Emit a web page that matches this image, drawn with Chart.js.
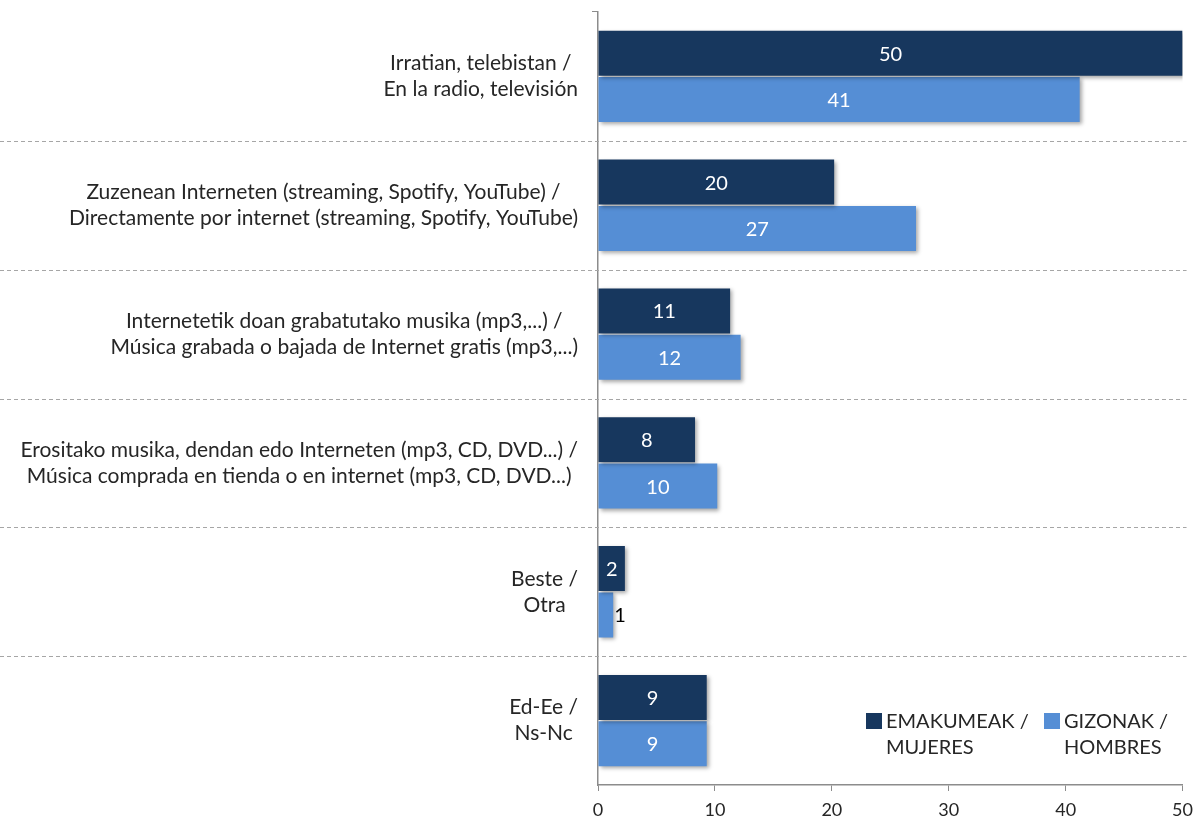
<!DOCTYPE html>
<html>
<head>
<meta charset="utf-8">
<script src="https://cdn.jsdelivr.net/npm/chart.js@4/dist/chart.umd.min.js"></script>
<style>
  html, body { margin: 0; padding: 0; background: #fff; }
  #wrap { position: relative; width: 1201px; height: 823px; }
  #legend { font-family: Lato, sans-serif; font-size: 20px; color: #262626; line-height: 26px; }
  .item { position: absolute; top: 707px; display: flex; align-items: flex-start; }
  .box { width: 16px; height: 16px; margin: 6px 4px 0 0; }
</style>
</head>
<body>
<div id="wrap">
  <canvas id="chart" width="1201" height="823"></canvas>
  <div id="legend"></div>
</div>
<script>
const categories = [
    ['Irratian, telebistan /', 'En la radio, televisión'],
    ['Zuzenean Interneten (streaming, Spotify, YouTube) /', 'Directamente por internet (streaming, Spotify, YouTube)'],
    ['Internetetik doan grabatutako musika (mp3,...) /', 'Música grabada o bajada de Internet gratis (mp3,...)'],
    ['Erositako musika, dendan edo Interneten (mp3, CD, DVD...) /', 'Música comprada en tienda o en internet (mp3, CD, DVD...)'],
    ['Beste /', 'Otra'],
    ['Ed-Ee /', 'Ns-Nc']
];
const women = [50, 20.2, 11.3, 8.3, 2.3, 9.3];
const men = [41.2, 27.2, 12.2, 10.2, 1.3, 9.3];
const seriesNames = [['EMAKUMEAK /', 'MUJERES'], ['GIZONAK /', 'HOMBRES']];
const xTicks = [0, 10, 20, 30, 40, 50];

const colors = {
    women: '#17375E',
    men: '#558ED5',
    axis: '#8C8C8C',
    sep: '#A6A6A6',
    text: '#262626'
};
const fontFamily = 'Lato, sans-serif';

// dashed separators, bar shadow, value labels and centred category labels
const decorations = {
    id: 'decorations',
    beforeDatasetsDraw(chart) {
        const {ctx, chartArea, scales: {y}} = chart;
        ctx.save();
        ctx.strokeStyle = colors.sep;
        ctx.lineWidth = 1;
        ctx.setLineDash([4, 3]);
        for (let i = 1; i < categories.length; i++) {
            const py = Math.round((y.getPixelForTick(i - 1) + y.getPixelForTick(i)) / 2) + 0.5;
            ctx.beginPath();
            ctx.moveTo(0, py);
            ctx.lineTo(chartArea.right + 4, py);
            ctx.stroke();
        }
        ctx.restore();

        // category labels: each block ends near the axis, its lines centred
        ctx.save();
        ctx.font = '21px ' + fontFamily;
        ctx.fillStyle = colors.text;
        ctx.textAlign = 'center';
        ctx.textBaseline = 'middle';
        categories.forEach((lines, i) => {
            const widest = Math.max(...lines.map(l => ctx.measureText(l).width));
            const cx = chartArea.left - 20 - widest / 2;
            const cy = y.getPixelForTick(i);
            lines.forEach((l, k) => {
                ctx.fillText(l, cx, cy + (k - (lines.length - 1) / 2) * 26);
            });
        });
        ctx.restore();

        // soft shadow for the bars
        ctx.save();
        ctx.shadowColor = 'rgba(0,0,0,0.35)';
        ctx.shadowBlur = 4;
        ctx.shadowOffsetX = 2;
        ctx.shadowOffsetY = 2;
    },
    afterDatasetsDraw(chart) {
        const {ctx} = chart;
        ctx.restore();
        ctx.save();
        ctx.font = '20px ' + fontFamily;
        ctx.textBaseline = 'middle';
        chart.data.datasets.forEach((ds, di) => {
            chart.getDatasetMeta(di).data.forEach((bar, i) => {
                const txt = String(Math.round(ds.data[i]));
                const w = bar.x - bar.base;
                if (w < 20) {
                    ctx.fillStyle = '#000';
                    ctx.textAlign = 'left';
                    ctx.fillText(txt, bar.x + 1, bar.y + 1);
                } else {
                    ctx.fillStyle = '#fff';
                    ctx.textAlign = 'center';
                    ctx.fillText(txt, (bar.x + bar.base) / 2, bar.y + 1);
                }
            });
        });
        ctx.restore();
    }
};

new Chart(document.getElementById('chart'), {
    type: 'bar',
    data: {
        labels: categories,
        datasets: [{
            label: seriesNames[0].join(' '),
            data: women,
            backgroundColor: colors.women
        }, {
            label: seriesNames[1].join(' '),
            data: men,
            backgroundColor: colors.men
        }]
    },
    options: {
        indexAxis: 'y',
        responsive: false,
        animation: false,
        categoryPercentage: 0.72,
        barPercentage: 0.97,
        layout: { padding: { top: 12, right: 15, left: 0, bottom: 0 } },
        plugins: {
            legend: { display: false },
            tooltip: { enabled: false }
        },
        scales: {
            x: {
                min: 0,
                max: 50,
                afterBuildTicks: (s) => { s.ticks = xTicks.map(v => ({ value: v })); },
                grid: { drawOnChartArea: false, drawTicks: true, tickLength: 6, color: colors.axis },
                border: { color: colors.axis, width: 1.5 },
                ticks: { color: colors.text, font: { family: fontFamily, size: 18 }, padding: 8 },
                afterFit: (s) => { s.height = 38; }
            },
            y: {
                grid: {
                    drawOnChartArea: false,
                    drawTicks: true,
                    tickLength: 6,
                    color: (c) => c.index === 0 ? colors.axis : 'rgba(0,0,0,0)'
                },
                border: { color: colors.axis, width: 1.5 },
                ticks: { display: false },
                afterFit: (s) => { s.width = 598; s.paddingTop = 0; s.paddingBottom = 0; }
            }
        }
    },
    plugins: [decorations]
});

// html legend, two-line labels
const legend = document.getElementById('legend');
const legendLeft = [866, 1044];
[colors.women, colors.men].forEach((c, i) => {
    const item = document.createElement('div');
    item.className = 'item';
    item.style.left = legendLeft[i] + 'px';
    item.innerHTML = '<div class="box" style="background:' + c + '"></div><div>' + seriesNames[i].join('<br>') + '</div>';
    legend.appendChild(item);
});
</script>
</body>
</html>
